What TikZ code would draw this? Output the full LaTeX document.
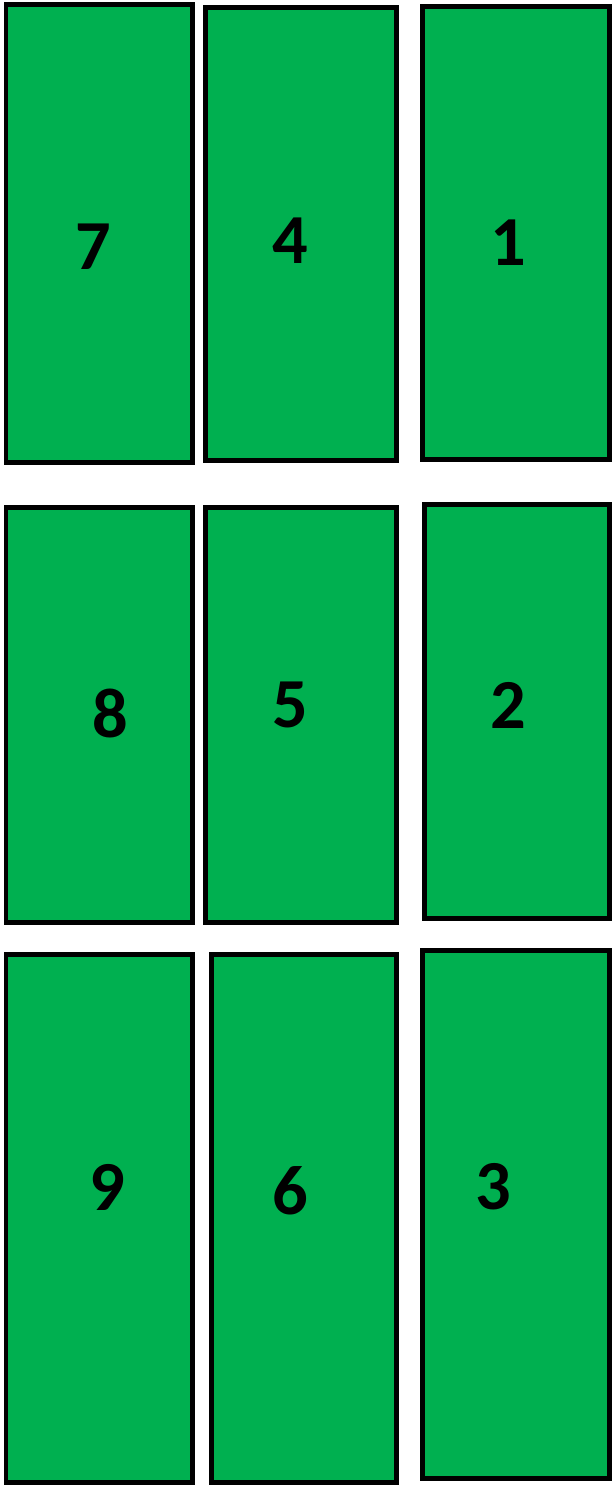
\documentclass[tikz,border=0pt]{standalone}
\usepackage{fontspec}
\setmainfont{Carlito}
\definecolor{slotgreen}{HTML}{00B050}
\usetikzlibrary{positioning}

\begin{document}
\begin{tikzpicture}[
  x=0.02cm, y=-0.02cm,
  slot/.style={draw=black, line width=0.1cm, fill=slotgreen},
  num/.style={font=\fontsize{40}{40}\selectfont\bfseries, inner sep=0pt},
]
  \useasboundingbox (0,0) rectangle (613,1490);
  % top row
  \draw[slot] (6,5) rectangle (192,462);
  \draw[slot] (205,8) rectangle (396,460);
  \draw[slot] (422,7) rectangle (609,459);
  % middle row
  \draw[slot] (6,507) rectangle (192,922);
  \draw[slot] (205,507) rectangle (396,922);
  \draw[slot] (424,504) rectangle (609,918);
  % bottom row
  \draw[slot] (6,954) rectangle (192,1482);
  \draw[slot] (211,954) rectangle (396,1482);
  \draw[slot] (422,950) rectangle (609,1478);
  % numbers
  \node[num] (n7) at (93,247) {7};
  \node[num] (n4) at (290,241) {4};
  \node[num] (n1) at (508,243) {1};
  \node[num] (n8) at (110,713) {8};
  \node[num] (n5) at (290,705) {5};
  \node[num] (n2) at (508,705) {2};
  \node[num] (n9) at (107,1187) {9};
  \node[num] (n6) at (290,1191) {6};
  \node[num] (n3) at (493,1187) {3};
\end{tikzpicture}
\end{document}
